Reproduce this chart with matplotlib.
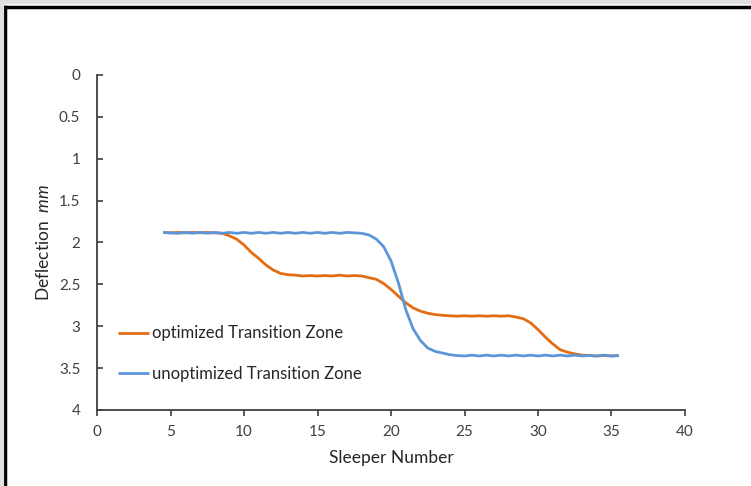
import matplotlib
matplotlib.use("Agg")
import matplotlib.pyplot as plt
from matplotlib.lines import Line2D

# Sleeper positions (every half sleeper)
sleeper = [4.5, 5, 5.5, 6, 6.5, 7, 7.5, 8, 8.5, 9, 9.5, 10, 10.5, 11, 11.5, 12,
           12.5, 13, 13.5, 14, 14.5, 15, 15.5, 16, 16.5, 17, 17.5, 18, 18.5, 19,
           19.5, 20, 20.5, 21, 21.5, 22, 22.5, 23, 23.5, 24, 24.5, 25, 25.5, 26,
           26.5, 27, 27.5, 28, 28.5, 29, 29.5, 30, 30.5, 31, 31.5, 32, 32.5, 33,
           33.5, 34, 34.5, 35, 35.5]

optimized = [1.88, 1.885, 1.88, 1.885, 1.88, 1.885, 1.88, 1.885, 1.89, 1.92, 1.96, 2.03,
             2.12, 2.19, 2.27, 2.33, 2.37, 2.385, 2.39, 2.40, 2.395, 2.40, 2.395, 2.40,
             2.39, 2.40, 2.395, 2.40, 2.42, 2.44, 2.49, 2.56, 2.64, 2.72, 2.78, 2.82,
             2.845, 2.86, 2.87, 2.875, 2.88, 2.875, 2.88, 2.875, 2.88, 2.875, 2.88, 2.875,
             2.89, 2.91, 2.96, 3.04, 3.13, 3.21, 3.28, 3.31, 3.33, 3.345, 3.35, 3.355,
             3.35, 3.355, 3.35]

unoptimized = [1.88, 1.885, 1.89, 1.88, 1.89, 1.88, 1.89, 1.88, 1.89, 1.88, 1.89, 1.88,
               1.89, 1.88, 1.89, 1.88, 1.89, 1.88, 1.89, 1.88, 1.89, 1.88, 1.89, 1.88,
               1.89, 1.88, 1.885, 1.89, 1.91, 1.96, 2.05, 2.22, 2.48, 2.80, 3.03, 3.17,
               3.26, 3.30, 3.32, 3.34, 3.35, 3.355, 3.345, 3.355, 3.345, 3.355, 3.345, 3.355,
               3.345, 3.355, 3.345, 3.355, 3.345, 3.355, 3.345, 3.355, 3.345, 3.355, 3.35,
               3.355, 3.345, 3.355, 3.35]

x_ticks = [0, 5, 10, 15, 20, 25, 30, 35, 40]
y_ticks = [0, 0.5, 1, 1.5, 2, 2.5, 3, 3.5, 4]
y_tick_labels = ["0", "0.5", "1", "1.5", "2", "2.5", "3", "3.5", "4"]

plt.rcParams["font.family"] = ["Lato", "DejaVu Sans"]
plt.rcParams["mathtext.fontset"] = "custom"
plt.rcParams["mathtext.it"] = "Lato:italic"
plt.rcParams["mathtext.rm"] = "Lato"

fig = plt.figure(figsize=(7.51, 4.86), dpi=100)
ax = fig.add_axes([0.1292, 0.1564, 0.7829, 0.6893])

orange = "#E46C14"
blue = "#5B96D8"
ax.plot(sleeper, optimized, color=orange, lw=2.0, label="optimized Transition Zone",
        solid_capstyle="butt")
ax.plot(sleeper, unoptimized, color=blue, lw=2.0, label="unoptimized Transition Zone",
        solid_capstyle="butt")

ax.set_xlim(0, 40)
ax.set_ylim(4, 0)
ax.set_xticks(x_ticks)
ax.set_yticks(y_ticks)
ax.set_yticklabels(y_tick_labels)

for side in ("top", "right"):
    ax.spines[side].set_visible(False)
for side in ("left", "bottom"):
    ax.spines[side].set_color("#404040")
    ax.spines[side].set_linewidth(1.3)

ax.tick_params(axis="x", direction="out", length=4, width=1.2, color="#404040",
               labelsize=11, labelcolor="#404040", pad=7)
ax.tick_params(axis="y", direction="in", length=4, width=1.2, color="#404040",
               labelsize=11, labelcolor="#404040", pad=12)

ax.set_xlabel("Sleeper Number", fontsize=12.5, color="#262626", labelpad=8)
ax.set_ylabel(r"Deflection  $mm$", fontsize=12.5, color="#262626", labelpad=5)

ax.legend(loc="lower left", bbox_to_anchor=(0.035, 0.085), frameon=False,
          fontsize=12, handlelength=1.9, handletextpad=0.15, labelspacing=1.45,
          borderpad=0, borderaxespad=0, labelcolor="#262626")

# window frame around the chart (top and left edges)
fig.add_artist(Line2D([0.007, 1.0], [0.985, 0.985], transform=fig.transFigure,
                      color="black", lw=2.5))
fig.add_artist(Line2D([0.007, 0.007], [0.0, 0.985], transform=fig.transFigure,
                      color="black", lw=2.5))
fig.add_artist(Line2D([0.0, 1.0], [0.995, 0.995], transform=fig.transFigure,
                      color="#E0E0E0", lw=3))
fig.add_artist(Line2D([0.002, 0.002], [0.0, 1.0], transform=fig.transFigure,
                      color="#E0E0E0", lw=3))

fig.savefig("out.png", dpi=100)
